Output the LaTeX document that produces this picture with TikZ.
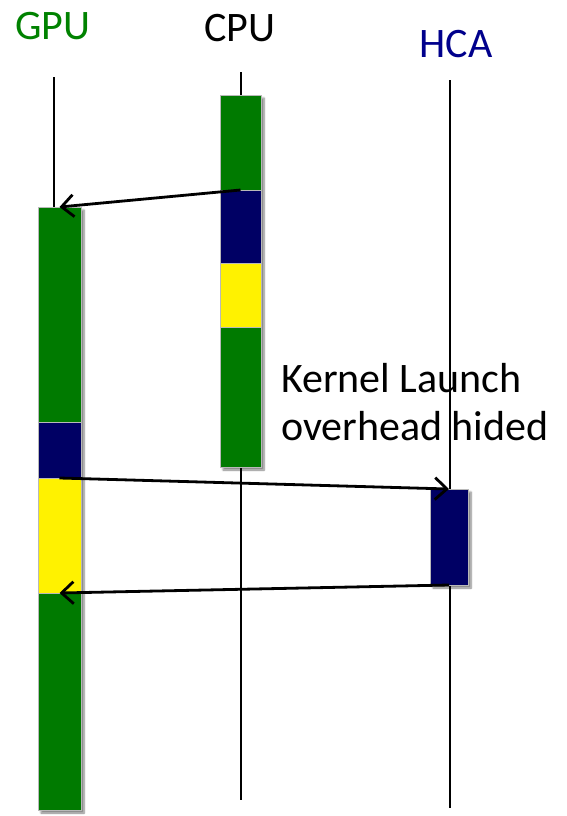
\documentclass[tikz,border=0pt]{standalone}
\usepackage{fontspec}
\setmainfont{Carlito}
\usetikzlibrary{arrows.meta,shadows.blur}
\definecolor{bargreen}{RGB}{0,122,0}
\definecolor{barnavy}{RGB}{0,0,100}
\definecolor{hcablue}{RGB}{0,0,140}
\definecolor{gpugreen}{RGB}{0,130,0}
\tikzset{
  seg/.style={anchor=north, inner sep=0pt, outer sep=0pt, draw=gray!55, line width=0.8pt},
  barbg/.style={anchor=north, inner sep=0pt, outer sep=0pt, fill=white,
    blur shadow={shadow xshift=3pt, shadow yshift=-3pt, shadow blur steps=6, shadow opacity=50}},
  life/.style={line width=2.8pt, black},
  msg/.style={line width=2.8pt, black, -{Straight Barb[length=12pt, width=22pt, line width=2.8pt]}},
  lbl/.style={anchor=base, font=\fontsize{42}{48}\selectfont},
}
\begin{document}
\begin{tikzpicture}[x=1pt, y=-1pt]
\useasboundingbox (0,0) rectangle (567,816);
% labels
\node[lbl, text=gpugreen] (lgpu) at (53,40) {GPU};
\node[lbl, text=black] (lcpu) at (240,42) {CPU};
\node[lbl, text=hcablue] (lhca) at (456,57) {HCA};
% text
\node[anchor=base west, inner sep=0pt, align=left, font=\fontsize{42}{48}\selectfont] (txt) at (281,440)
  {Kernel Launch\\overhead hided};
% lifelines
\coordinate (gtop) at (54,77);
\coordinate (gbot) at (54,207);
\coordinate (ctop) at (241,72);
\coordinate (cbot) at (241,800);
\coordinate (htop) at (450,80);
\coordinate (hbot) at (450,808);
\draw[life] (ctop) -- (cbot);
\draw[life] (htop) -- (hbot);
\draw[life] (gtop) -- (gbot);
% bar backgrounds with shadow
\node[barbg, minimum width=43pt, minimum height=603pt] (gbar) at (59.5,207) {};
\node[barbg, minimum width=41pt, minimum height=372pt] (cbar) at (240.5,95) {};
% GPU segments
\node[seg, fill=bargreen, minimum width=43pt, minimum height=215pt] (g1) at (59.5,207) {};
\node[seg, fill=barnavy, minimum width=43pt, minimum height=56pt] (g2) at (59.5,422) {};
\node[seg, fill=yellow, minimum width=43pt, minimum height=115pt] (g3) at (59.5,478) {};
\node[seg, fill=bargreen, minimum width=43pt, minimum height=217pt] (g4) at (59.5,593) {};
% CPU segments
\node[seg, fill=bargreen, minimum width=41pt, minimum height=95pt] (c1) at (240.5,95) {};
\node[seg, fill=barnavy, minimum width=41pt, minimum height=73pt] (c2) at (240.5,190) {};
\node[seg, fill=yellow, minimum width=41pt, minimum height=64pt] (c3) at (240.5,263) {};
\node[seg, fill=bargreen, minimum width=41pt, minimum height=140pt] (c4) at (240.5,327) {};
% HCA
\node[seg, fill=barnavy, minimum width=38pt, minimum height=96pt,
  blur shadow={shadow xshift=3pt, shadow yshift=-3pt, shadow blur steps=6, shadow opacity=50}] (h1) at (449,489) {};
% messages
\draw[msg] (c2.north) -- (g1.north);
\draw[msg] (g2.south) -- (h1.north);
\draw[msg] (h1.south) -- (g3.south);
\end{tikzpicture}
\end{document}
